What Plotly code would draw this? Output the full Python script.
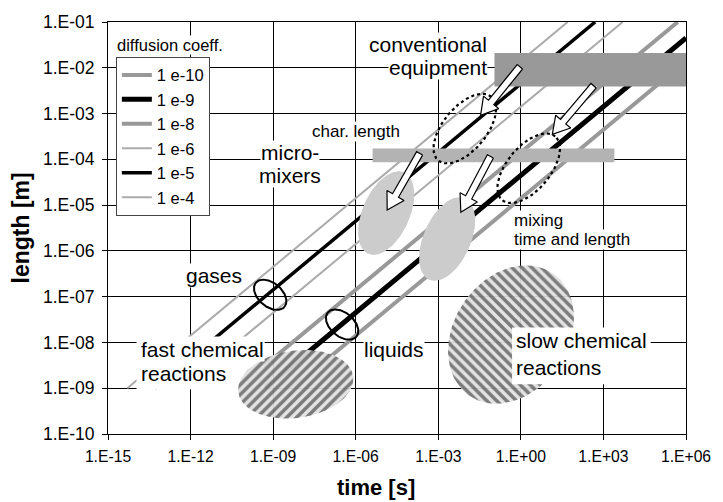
import numpy as np
import plotly.graph_objects as go

FONT = "Liberation Sans, Arial, Helvetica, sans-serif"

# ---------------- data ----------------
diff_coeff_labels = ["1 e-10", "1 e-9", "1 e-8", "1 e-6", "1 e-5", "1 e-4"]
# each diffusion line: start point and end point (time [s], length [m])
line_t_start = [5e-9, 5e-10, 5e-11, 5e-13, 5e-14, 5e-15]
line_L_start = [1e-9, 1e-9, 1e-9, 1e-9, 1e-9, 1e-9]
line_t_end = [1e6, 1e6, 5e5, 5e3, 5e2, 5e1]
line_L_end = [1.4e-2, 4.5e-2, 1e-1, 1e-1, 1e-1, 1e-1]

x_tickvals = [1e-15, 1e-12, 1e-9, 1e-6, 1e-3, 1e0, 1e3, 1e6]
x_ticktext = ["1.E-15", "1.E-12", "1.E-09", "1.E-06", "1.E-03", "1.E+00", "1.E+03", "1.E+06"]
y_tickvals = [1e-10, 1e-9, 1e-8, 1e-7, 1e-6, 1e-5, 1e-4, 1e-3, 1e-2, 1e-1]
y_ticktext = ["1.E-10", "1.E-09", "1.E-08", "1.E-07", "1.E-06", "1.E-05",
              "1.E-04", "1.E-03", "1.E-02", "1.E-01"]

# regions (time range, length range)
conv_bar_t = [0.11, 1e6]
conv_bar_L = [3.9e-3, 2.1e-2]
char_bar_t = [4.1e-6, 2.5e3]
char_bar_L = [8.6e-5, 1.73e-4]

mix_ellipse_t = [1.28e-5, 2.1e-3]
mix_ellipse_L = [6.7e-6, 1.82e-6]
conv_ellipse_t = [9.2e-3, 1.93]
conv_ellipse_L = [4.7e-4, 6.4e-5]
phase_ellipse_t = [7.8e-10, 3.2e-7]      # gases, liquids
phase_ellipse_L = [1.1e-7, 2.46e-8]
fast_rxn_t, fast_rxn_L = 6.6e-9, 1.22e-9
slow_rxn_t, slow_rxn_L = 0.44, 1.49e-8

arrow_tail_t = [0.92, 440, 2.1e-4, 0.078]
arrow_tail_L = [1.05e-2, 4.06e-3, 1.35e-4, 1.16e-4]
arrow_tip_t = [0.0344, 13.9, 1.39e-5, 6.6e-3]
arrow_tip_L = [9.1e-4, 3.5e-4, 7.8e-6, 7.0e-6]

fast_box_t = [1.09e-14, 4.8e-10]
fast_box_L = [9.5e-10, 1.35e-8]
slow_box_t = [0.48, 5.2e4]
slow_box_L = [1.22e-9, 2.12e-8]

# ---------------- styles / layout ----------------
line_colors = ["#999999", "#000000", "#999999", "#ababab", "#000000", "#ababab"]
line_widths = [4, 5, 4, 2, 3.5, 2]

W, H = 723, 502
ML, MR, MT, MB = 108, 27, 18, 68
X_RANGE = (-15, 6)
Y_RANGE = (-10, -1)
KX = (W - ML - MR) / (X_RANGE[1] - X_RANGE[0])   # px per decade
KY = (H - MT - MB) / (Y_RANGE[1] - Y_RANGE[0])


def to_px(t, L):
    return np.log10(t) * KX, np.log10(L) * KY


def from_px(u, v):
    return 10 ** (np.asarray(u) / KX), 10 ** (np.asarray(v) / KY)


def ellipse(t, L, a, b, ang_deg, n=160):
    u0, v0 = to_px(t, L)
    th = np.linspace(0, 2 * np.pi, n)
    c, s = np.cos(np.radians(ang_deg)), np.sin(np.radians(ang_deg))
    u = u0 + a * np.cos(th) * c - b * np.sin(th) * s
    v = v0 + a * np.cos(th) * s + b * np.sin(th) * c
    return from_px(u, v)


def arrow(t0, L0, t1, L1, sw=3.5, hw=10.0, hl=17.0):
    p0 = np.array(to_px(t0, L0))
    p1 = np.array(to_px(t1, L1))
    d = (p1 - p0) / np.linalg.norm(p1 - p0)
    nrm = np.array([-d[1], d[0]])
    base = p1 - d * hl
    pts = [p0 + nrm * sw, base + nrm * sw, base + nrm * hw, p1,
           base - nrm * hw, base - nrm * sw, p0 - nrm * sw, p0 + nrm * sw]
    pts = np.array(pts)
    return from_px(pts[:, 0], pts[:, 1])


def rect(ts, Ls):
    return ([ts[0], ts[1], ts[1], ts[0], ts[0]], [Ls[0], Ls[0], Ls[1], Ls[1], Ls[0]])


fig = go.Figure()

# diffusion lines
for i, lab in enumerate(diff_coeff_labels):
    fig.add_trace(go.Scatter(
        x=[line_t_start[i], line_t_end[i]], y=[line_L_start[i], line_L_end[i]],
        mode="lines", name=lab, legendgroup=lab,
        line=dict(color=line_colors[i], width=line_widths[i]),
        hoverinfo="skip"))


def poly(x, y, fillcolor, line=None, **kw):
    fig.add_trace(go.Scatter(
        x=x, y=y, mode="lines", fill="toself", fillcolor=fillcolor,
        line=line or dict(width=0, color=fillcolor),
        showlegend=False, hoverinfo="skip", **kw))


def outline(x, y, color="black", width=2, dash="solid"):
    fig.add_trace(go.Scatter(
        x=x, y=y, mode="lines", line=dict(color=color, width=width, dash=dash),
        showlegend=False, hoverinfo="skip"))


# white box behind "fast chemical reactions"
bx, by = rect(fast_box_t, fast_box_L)
poly(bx, by, "white")

# gray bars
bx, by = rect(conv_bar_t, conv_bar_L)
poly(bx, by, "#999999")
bx, by = rect(char_bar_t, char_bar_L)
poly(bx, by, "#b3b3b3")

# micro-mixer mixing regions
for t, L in zip(mix_ellipse_t, mix_ellipse_L):
    ex, ey = ellipse(t, L, 45, 24, 66)
    poly(ex, ey, "#cccccc")

# hatched chemical reaction regions
hatch_bg = "rgba(226,226,226,0.93)"
ex, ey = ellipse(fast_rxn_t, fast_rxn_L, 59, 34, 8)
poly(ex, ey, "#e2e2e2",
     fillpattern=dict(shape="/", fgcolor="#111111", bgcolor=hatch_bg,
                      size=7, solidity=0.5))
ex, ey = ellipse(slow_rxn_t, slow_rxn_L, 75, 58, 55)
poly(ex, ey, "#e2e2e2",
     fillpattern=dict(shape="\\", fgcolor="#111111", bgcolor=hatch_bg,
                      size=7, solidity=0.5))

# white box behind "slow chemical reactions"
bx, by = rect(slow_box_t, slow_box_L)
poly(bx, by, "white")

# gases / liquids ellipses
for t, L in zip(phase_ellipse_t, phase_ellipse_L):
    ex, ey = ellipse(t, L, 19, 12, -40)
    outline(ex, ey, "black", 2)

# dotted ellipses (mixing time and length)
for t, L in zip(conv_ellipse_t, conv_ellipse_L):
    ex, ey = ellipse(t, L, 42, 22, 50)
    outline(ex, ey, "black", 2.2, "dot")

# block arrows
for i in range(len(arrow_tail_t)):
    ax_, ay_ = arrow(arrow_tail_t[i], arrow_tail_L[i], arrow_tip_t[i], arrow_tip_L[i])
    poly(ax_, ay_, "white", line=dict(color="black", width=1.2))


def label(text, t, L, size, xanchor="center"):
    fig.add_annotation(x=np.log10(t), y=np.log10(L), xref="x", yref="y",
                       text=text, showarrow=False, xanchor=xanchor, yanchor="middle",
                       font=dict(family=FONT, size=size, color="black"),
                       bgcolor="white", borderpad=0)


label("conventional", 0.066, 3.16e-2, 21, "right")
label("equipment", 0.066, 1.0e-2, 21, "right")
label("micro-", 4.2e-9, 1.42e-4, 21)
label("mixers", 4.2e-9, 4.5e-5, 21)
label("char. length", 1e-6, 4.06e-4, 17)
label("gases", 6.9e-12, 2.86e-7, 21)
label("liquids", 2.37e-5, 7.0e-9, 21)
label("fast chemical", 1.4e-14, 7.0e-9, 21, "left")
label("reactions", 1.4e-14, 2.12e-9, 21, "left")
label("slow chemical", 0.62, 1.1e-8, 21, "left")
label("reactions", 0.62, 2.86e-9, 21, "left")
label("mixing", 0.53, 4.72e-6, 17, "left")
label("time and length", 0.53, 1.73e-6, 17, "left")
label("diffusion coeff.", 2.0e-15, 3.16e-2, 16.5, "left")

# axis titles
fig.add_annotation(x=(381 - ML) / (W - ML - MR), y=1 - (488 - MT) / (H - MT - MB),
                   xref="paper", yref="paper", text="<b>time [s]</b>", showarrow=False,
                   xanchor="center", yanchor="middle",
                   font=dict(family=FONT, size=22, color="black"))
fig.add_annotation(x=(20 - ML) / (W - ML - MR), y=1 - (226 - MT) / (H - MT - MB),
                   xref="paper", yref="paper", text="<b>length [m]</b>", showarrow=False,
                   textangle=-90, xanchor="center", yanchor="middle",
                   font=dict(family=FONT, size=23, color="black"))

axis_common = dict(type="log", showgrid=True, gridcolor="black", gridwidth=1,
                   showline=True, linecolor="black", linewidth=1, mirror=True,
                   ticks="outside", ticklen=5, tickcolor="black", zeroline=False)

fig.update_xaxes(range=list(X_RANGE), tickvals=x_tickvals, ticktext=x_ticktext,
                 tickfont=dict(family=FONT, size=15.7, color="black"),
                 ticklabelstandoff=3, **axis_common)
fig.update_yaxes(range=list(Y_RANGE), tickvals=y_tickvals, ticktext=y_ticktext,
                 tickfont=dict(family=FONT, size=17.5, color="black"),
                 ticklabelstandoff=4, **axis_common)

fig.update_layout(
    width=W, height=H,
    margin=dict(l=ML, r=MR, t=MT, b=MB),
    paper_bgcolor="white", plot_bgcolor="white",
    hovermode=False,
    legend=dict(x=(116 - ML) / (W - ML - MR), y=1 - (53 - MT) / (H - MT - MB),
                xanchor="left", yanchor="top", bgcolor="white",
                bordercolor="#444444", borderwidth=1,
                font=dict(family=FONT, size=16.5, color="black"),
                tracegroupgap=7, traceorder="normal"),
)

fig.write_html("out.html")
